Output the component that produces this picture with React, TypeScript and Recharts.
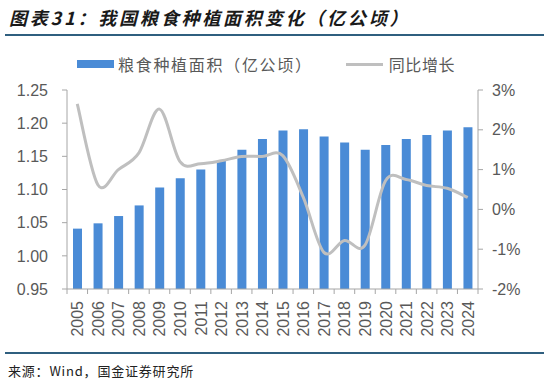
import { Bar, ComposedChart, Line, XAxis, YAxis } from "recharts";

const years = [
  "2005", "2006", "2007", "2008", "2009", "2010", "2011", "2012", "2013", "2014",
  "2015", "2016", "2017", "2018", "2019", "2020", "2021", "2022", "2023", "2024",
];

// 粮食种植面积（亿公顷）
const area = [
  1.041, 1.049, 1.06, 1.076, 1.103, 1.117, 1.13, 1.143, 1.16, 1.176,
  1.189, 1.191, 1.18, 1.171, 1.16, 1.167, 1.176, 1.182, 1.189, 1.194,
];

// 同比增长（%）
const growth = [
  2.65, 0.62, 1.0, 1.42, 2.52, 1.2, 1.15, 1.22, 1.33, 1.33,
  1.35, 0.3, -1.08, -0.78, -0.9, 0.72, 0.75, 0.6, 0.53, 0.3,
];

const leftTicks = [0.95, 1.0, 1.05, 1.1, 1.15, 1.2, 1.25];
const rightTicks = [-2, -1, 0, 1, 2, 3];

const W = 544;
const H = 385;
const PLOT_LEFT = 67;
const PLOT_RIGHT = 478;
const PLOT_TOP = 90;
const PLOT_BOTTOM = 289;
const BAND = (PLOT_RIGHT - PLOT_LEFT) / years.length;

const axisColor = "#a6a6a6";
const textColor = "#595959";
const numFont = "'Liberation Sans', Arial, sans-serif";
const cjkFont = "'Noto Sans CJK SC', 'Noto Sans', sans-serif";

const data = years.map((year, i) => ({ year, area: area[i], growth: growth[i] }));

// Excel-style smoothed line (Catmull-Rom through every point)
function excelSmooth(context: any) {
  let pts: [number, number][] = [];
  return {
    areaStart() {},
    areaEnd() {},
    lineStart() {
      pts = [];
    },
    point(x: number, y: number) {
      pts.push([+x, +y]);
    },
    lineEnd() {
      if (!pts.length) return;
      context.moveTo(pts[0][0], pts[0][1]);
      for (let i = 0; i < pts.length - 1; i++) {
        const p0 = pts[Math.max(i - 1, 0)];
        const p1 = pts[i];
        const p2 = pts[i + 1];
        const p3 = pts[Math.min(i + 2, pts.length - 1)];
        context.bezierCurveTo(
          p1[0] + (p2[0] - p0[0]) / 6,
          p1[1] + (p2[1] - p0[1]) / 6,
          p2[0] - (p3[0] - p1[0]) / 6,
          p2[1] - (p3[1] - p1[1]) / 6,
          p2[0],
          p2[1],
        );
      }
    },
  };
}

function YearTick(props: any) {
  const { x, payload, index } = props;
  const half = BAND / 2;
  return (
    <g>
      <line x1={x - half} x2={x - half} y1={PLOT_BOTTOM} y2={PLOT_BOTTOM + 5} stroke={axisColor} />
      {index === years.length - 1 && (
        <line x1={x + half} x2={x + half} y1={PLOT_BOTTOM} y2={PLOT_BOTTOM + 5} stroke={axisColor} />
      )}
      <text
        x={0}
        y={0}
        transform={`translate(${x + 6}, ${PLOT_BOTTOM + 12}) rotate(-90)`}
        textAnchor="end"
        fill={textColor}
        fontSize={16}
        fontFamily={numFont}
      >
        {payload.value}
      </text>
    </g>
  );
}

export default function App() {
  return (
    <div style={{ position: "absolute", left: 0, top: 0, width: W, height: H, background: "#fff" }}>
      <div
        style={{
          position: "absolute",
          left: 9,
          top: 5,
          fontFamily: cjkFont,
          fontSize: 18,
          fontWeight: 700,
          fontStyle: "italic",
          letterSpacing: 2.8,
          color: "#1a1a1a",
          lineHeight: "24px",
          whiteSpace: "nowrap",
        }}
      >
        图表31：我国粮食种植面积变化（亿公顷）
      </div>
      <div style={{ position: "absolute", left: 5, top: 34, width: W - 5, height: 1.5, background: "#2f5f7f" }} />

      <div
        style={{
          position: "absolute",
          left: 77,
          top: 53,
          display: "flex",
          alignItems: "center",
          fontFamily: cjkFont,
          fontSize: 16,
          color: textColor,
          whiteSpace: "nowrap",
          height: 22,
        }}
      >
        <span style={{ width: 37, height: 8, background: "#4a8bd6", display: "inline-block" }} />
        <span style={{ marginLeft: 4, letterSpacing: 1.7 }}>粮食种植面积（亿公顷）</span>
        <span style={{ width: 37, height: 3, background: "#bfbfbf", display: "inline-block", marginLeft: 33 }} />
        <span style={{ marginLeft: 6, letterSpacing: 0.6 }}>同比增长</span>
      </div>

      <ComposedChart
        width={W}
        height={H}
        data={data}
        barCategoryGap={0}
        margin={{ top: PLOT_TOP, right: W - PLOT_RIGHT - 50, bottom: H - PLOT_BOTTOM - 55, left: PLOT_LEFT - 60 }}
      >
        <XAxis
          dataKey="year"
          interval={0}
          height={55}
          tickLine={false}
          axisLine={{ stroke: axisColor }}
          tick={<YearTick />}
        />
        <YAxis
          yAxisId="left"
          width={60}
          domain={[0.95, 1.25]}
          ticks={leftTicks}
          tickFormatter={(v) => Number(v).toFixed(2)}
          axisLine={{ stroke: axisColor }}
          tickLine={{ stroke: axisColor }}
          tickSize={5}
          tickMargin={14}
          tick={{ fill: textColor, fontSize: 16, fontFamily: numFont }}
          allowDataOverflow
        />
        <YAxis
          yAxisId="right"
          orientation="right"
          width={50}
          domain={[-2, 3]}
          ticks={rightTicks}
          tickFormatter={(v) => `${v}%`}
          axisLine={{ stroke: axisColor }}
          tickLine={{ stroke: axisColor }}
          tickSize={5}
          tickMargin={9}
          tick={{ fill: textColor, fontSize: 16, fontFamily: numFont }}
          allowDataOverflow
        />
        <Bar yAxisId="left" dataKey="area" fill="#4a8bd6" barSize={9} isAnimationActive={false} />
        <Line
          yAxisId="right"
          dataKey="growth"
          type={excelSmooth as any}
          stroke="#bfbfbf"
          strokeWidth={3}
          dot={false}
          activeDot={false}
          isAnimationActive={false}
        />
      </ComposedChart>

      <div style={{ position: "absolute", left: 5, top: 352, width: W - 5, height: 1.5, background: "#2f5f7f" }} />
      <div
        style={{
          position: "absolute",
          left: 8,
          top: 361,
          fontFamily: cjkFont,
          fontSize: 13,
          letterSpacing: 0.8,
          color: "#222",
          whiteSpace: "nowrap",
          lineHeight: "20px",
        }}
      >
        来源：Wind，国金证券研究所
      </div>
    </div>
  );
}
